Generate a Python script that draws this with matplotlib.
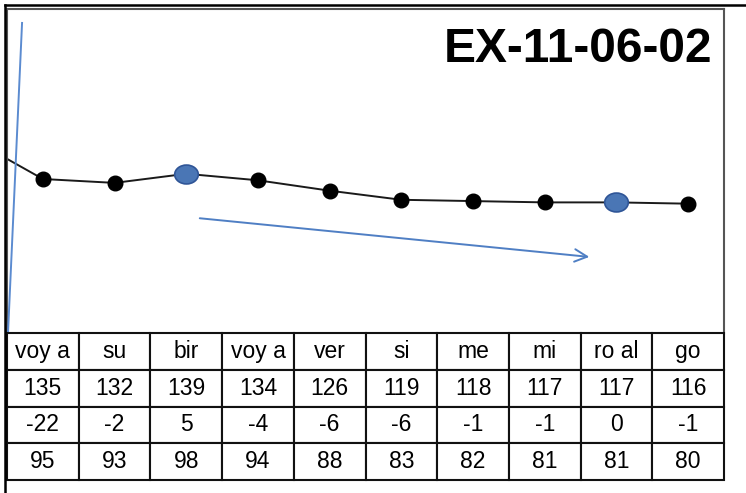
import matplotlib
matplotlib.use("Agg")
import matplotlib.pyplot as plt
from matplotlib.lines import Line2D
from matplotlib.path import Path
from matplotlib.transforms import Affine2D
import numpy as np

plt.rcParams['font.family'] = ['Liberation Sans', 'DejaVu Sans']

# ---- data ----
labels = ["voy a", "su", "bir", "voy a", "ver", "si", "me", "mi", "ro al", "go"]
values = [135, 132, 139, 134, 126, 119, 118, 117, 117, 116]
diffs = [-22, -2, 5, -4, -6, -6, -1, -1, 0, -1]
scaled = [95, 93, 98, 94, 88, 83, 82, 81, 81, 80]
prev_value = 166          # estimated off-chart value before the first point
highlight_idx = [2, 8]
title = "EX-11-06-02"

W, H = 746, 493
fig = plt.figure(figsize=(W / 100, H / 100), dpi=100)
fig.patch.set_facecolor("white")

def fx(px):
    return px / W

def fy(py):
    return (H - py) / H

# chart axes
ax = fig.add_axes([fx(7), fy(333), fx(724) - fx(7), fy(9) - fy(333)])
x = np.arange(len(values))
ax.plot(np.concatenate([[-1], x]), [prev_value] + values, color="#1a1a1a", lw=1.4, zorder=2)
ax.plot(x, values, ls="none", marker="o", ms=10.5, color="black", zorder=3)

ellipse = Path.unit_circle().transformed(Affine2D().scale(1.0, 0.8))
hx = [x[i] for i in highlight_idx]
hy = [values[i] for i in highlight_idx]
ax.plot(hx, hy, ls="none", marker=ellipse, ms=17, markerfacecolor="#4A76B5",
        markeredgecolor="#2F5597", markeredgewidth=1.2, zorder=4)

ax.set_xlim(-0.5, len(values) - 0.5)
ax.set_ylim(16.5, 265.8)
ax.set_xticks([])
ax.set_yticks([])
for s in ax.spines.values():
    s.set_color("#555555")
    s.set_linewidth(1.5)
ax.spines["bottom"].set_visible(False)

ax.text(0.983, 0.836, title, transform=ax.transAxes, ha="right", va="baseline",
        fontsize=34.5, fontweight="bold", color="black")

# annotation shapes (blue)
ax.plot([0.021, 0.0014], [0.957, 0.0], transform=ax.transAxes, color="#5B8BD0",
        lw=1.4, clip_on=False, zorder=5)
ax.annotate("", xy=(0.816, 0.234), xytext=(0.265, 0.355),
            xycoords="axes fraction", textcoords="axes fraction",
            arrowprops=dict(arrowstyle="->,head_length=0.9,head_width=0.45",
                            color="#4F7FC4", lw=1.4))

# table
tax = fig.add_axes([fx(7), fy(480), fx(724) - fx(7), fy(333) - fy(480)])
tax.axis("off")
cell_text = [labels,
             [str(v) for v in values],
             [str(v) for v in diffs],
             [str(v) for v in scaled]]
tbl = tax.table(cellText=cell_text, cellLoc="center", bbox=[0, 0, 1, 1])
tbl.auto_set_font_size(False)
tbl.set_fontsize(16.5)
for (r, c), cell in tbl.get_celld().items():
    cell.set_linewidth(1.5)
    cell.set_edgecolor("#111111")
    cell.get_text().set_color("black")

# outer frame lines
fig.add_artist(Line2D([fx(5), fx(5)], [0, fy(5)], transform=fig.transFigure,
                      color="black", lw=1.8))
fig.add_artist(Line2D([fx(5), 1], [fy(5), fy(5)], transform=fig.transFigure,
                      color="black", lw=1.8))

fig.savefig("out.png", dpi=100, facecolor="white")
